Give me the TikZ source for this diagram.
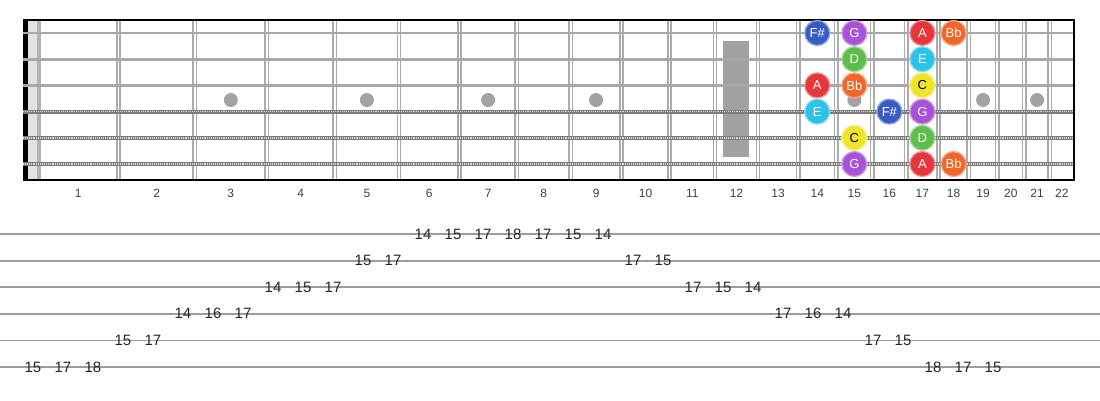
\documentclass[tikz,border=0pt]{standalone}
\usepackage{fontspec}
\setmainfont{Liberation Sans}
\definecolor{fretgray}{HTML}{ACACAC}
\definecolor{stringgray}{HTML}{A8A8A8}
\definecolor{woundgray}{HTML}{7C7C7C}
\definecolor{dotgray}{HTML}{A2A2A2}
\definecolor{nutgray}{HTML}{E2E2E2}
\definecolor{tabgray}{HTML}{9C9C9C}
\definecolor{noteFs}{HTML}{3A5BC4}
\definecolor{noteG}{HTML}{A852D8}
\definecolor{noteA}{HTML}{E5363B}
\definecolor{noteBb}{HTML}{F2662A}
\definecolor{noteD}{HTML}{5DBE4C}
\definecolor{noteE}{HTML}{2CC3E8}
\definecolor{noteC}{HTML}{F1E428}
% fret positions on the board
\pgfmathdeclarefunction{fretx}{1}{\pgfmathparse{38+1440*(1-pow(2,-#1/12))}}
\pgfmathdeclarefunction{fretmid}{1}{\pgfmathparse{38+720*(2-pow(2,-(#1-1)/12)-pow(2,-#1/12))}}
\begin{document}
\begin{tikzpicture}[x=1pt,y=-1pt,
    fret/.style={draw=fretgray,line width=1.5pt,double=white,double distance=1.8pt},
    plainstring/.style={draw=stringgray,line width=2.6pt},
    woundstring/.style={draw=woundgray,line width=4.2pt},
    windings/.style={draw=white!85!black,line width=1.5pt,dash pattern=on 0.8pt off 1.1pt},
    inlay/.style={fill=dotgray},
    fretnum/.style={text=black!75,font=\fontsize{12}{12}\selectfont},
    note/.style={circle,minimum size=25pt,inner sep=0pt,fill=#1,draw=#1!55!white,
        line width=1.3pt,font=\fontsize{13}{13}\selectfont},
    tabline/.style={draw=tabgray,line width=1.8pt},
    tabnum/.style={text=black!85,inner sep=1pt,font=\fontsize{15}{15}\selectfont}]
    \useasboundingbox (0,0) rectangle (1100,400);
    % nut
    \fill[black] (23,20) rectangle (28,181);
    \fill[nutgray] (28,21) rectangle (37,180);
    \fill[black!30] (37,21) rectangle (41,180);
    % frets
    \foreach \n in {1,...,21} {\pgfmathsetmacro{\fx}{fretx(\n)}
        \draw[fret] (\fx,21) -- (\fx,179);}
    % inlays
    \foreach \n in {3,5,7,9,15,19,21} {\fill[inlay] ({fretmid(\n)},100) circle (7);}
    \fill[inlay] ({fretmid(12)-13},41) rectangle ({fretmid(12)+13},157);
    % strings
    \foreach \s in {1,2,3} {\draw[plainstring] (23,{33+(\s-1)*26.2}) -- (1074,{33+(\s-1)*26.2});}
    \foreach \s in {4,5,6} {\draw[woundstring] (23,{33+(\s-1)*26.2}) -- (1074,{33+(\s-1)*26.2});
        \draw[windings] (23,{33+(\s-1)*26.2}) -- (1074,{33+(\s-1)*26.2});}
    % border
    \draw[line width=2pt] (23,20) -- (1074,20) -- (1074,180) -- (23,180);
    % fret numbers
    \foreach \n in {1,...,22} {\node[fretnum] (fn\n) at ({fretmid(\n)},193) {\n};}
    % scale notes
    \foreach \s/\f/\c/\tc/\t in {1/14/noteFs/white/F\#,1/15/noteG/white/G,1/17/noteA/white/A,1/18/noteBb/white/Bb,
        2/15/noteD/white/D,2/17/noteE/white/E,
        3/14/noteA/white/A,3/15/noteBb/white/Bb,3/17/noteC/black/C,
        4/14/noteE/white/E,4/16/noteFs/white/F\#,4/17/noteG/white/G,
        5/15/noteC/black/C,5/17/noteD/white/D,
        6/15/noteG/white/G,6/17/noteA/white/A,6/18/noteBb/white/Bb}
        {\node[note=\c,text=\tc] (n\s-\f) at ({fretmid(\f)},{33+(\s-1)*26.2}) {\t};}
    % tab
    \foreach \s in {1,...,6} {\draw[tabline] (0,{234+(\s-1)*26.6}) -- (1100,{234+(\s-1)*26.6});}
    \foreach \s/\f [count=\k from 0] in {6/15,6/17,6/18,5/15,5/17,4/14,4/16,4/17,3/14,3/15,3/17,
        2/15,2/17,1/14,1/15,1/17,1/18,1/17,1/15,1/14,2/17,2/15,3/17,3/15,3/14,
        4/17,4/16,4/14,5/17,5/15,6/18,6/17,6/15}
        {\node[tabnum] (t\k) at ({33+30*\k},{234+(\s-1)*26.6}) {\f};}
\end{tikzpicture}
\end{document}
